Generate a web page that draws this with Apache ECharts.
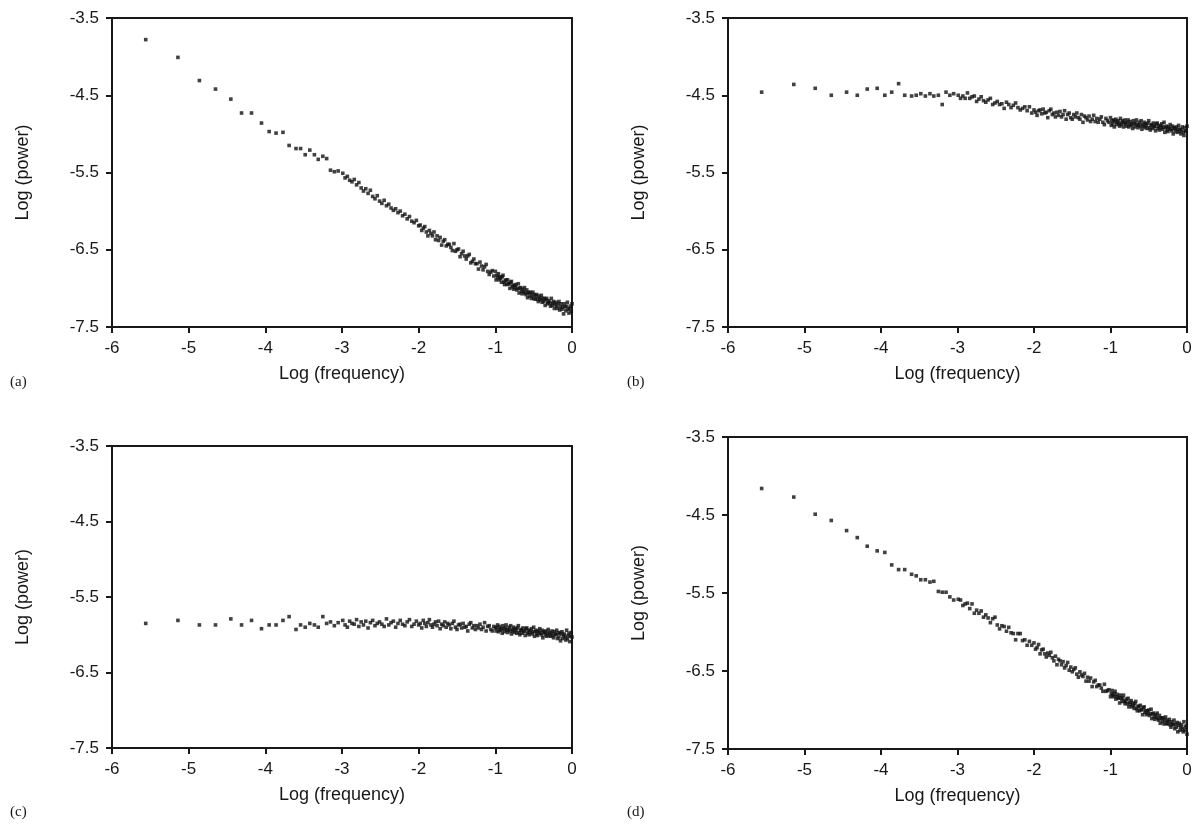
<!DOCTYPE html>
<html><head><meta charset="utf-8">
<script src="https://cdn.jsdelivr.net/npm/echarts@6/dist/echarts.min.js"></script>
<style>html,body{margin:0;padding:0;background:#fff}#c{width:1196px;height:829px}</style>
</head><body><div id="c"></div><script>
// Shared log-frequency grid (x values)
const logFreq = [
-5.56,-5.14,-4.86,-4.65,-4.45,-4.31,-4.18,-4.05,-3.95,-3.86,-3.77,-3.69,-3.60,-3.54,-3.48,-3.42,-3.36,-3.31,-3.25,-3.20,
-3.15,-3.10,-3.05,-2.99,-2.96,-2.93,-2.90,-2.87,-2.84,-2.81,-2.78,-2.75,-2.72,-2.69,-2.66,-2.63,-2.60,-2.57,-2.54,-2.51,-2.48,-2.45,-2.42,-2.39,-2.36,-2.33,-2.30,-2.27,-2.24,-2.21,-2.18,-2.15,-2.12,-2.09,-2.06,-2.03,-2.00,
-1.98,-1.96,-1.94,-1.92,-1.90,-1.88,-1.86,-1.84,-1.82,-1.80,-1.78,-1.76,-1.74,-1.72,-1.70,-1.68,-1.66,-1.64,-1.62,-1.60,-1.58,-1.56,-1.54,-1.52,-1.50,-1.48,-1.46,-1.44,-1.42,-1.40,-1.38,-1.36,-1.34,-1.32,-1.30,-1.28,-1.26,-1.24,-1.22,-1.20,-1.18,-1.16,-1.14,-1.12,-1.10,-1.08,-1.06,-1.04,-1.02,-1.00,
-0.99,-0.98,-0.97,-0.96,-0.95,-0.94,-0.93,-0.92,-0.91,-0.90,-0.89,-0.88,-0.87,-0.86,-0.85,-0.84,-0.83,-0.82,-0.81,-0.80,
-0.79,-0.78,-0.77,-0.76,-0.75,-0.74,-0.73,-0.72,-0.71,-0.70,-0.69,-0.68,-0.67,-0.66,-0.65,-0.64,-0.63,-0.62,-0.61,-0.60,
-0.59,-0.58,-0.57,-0.56,-0.55,-0.54,-0.53,-0.52,-0.51,-0.50,-0.49,-0.48,-0.47,-0.46,-0.45,-0.44,-0.43,-0.42,-0.41,-0.40,
-0.39,-0.38,-0.37,-0.36,-0.35,-0.34,-0.33,-0.32,-0.31,-0.30,-0.29,-0.28,-0.27,-0.26,-0.25,-0.24,-0.23,-0.22,-0.21,-0.20,
-0.19,-0.18,-0.17,-0.16,-0.15,-0.14,-0.13,-0.12,-0.11,-0.10,-0.09,-0.08,-0.07,-0.06,-0.05,-0.04,-0.03,-0.02,-0.01,0.00
];

const powerA = [
-3.78,-4.01,-4.31,-4.42,-4.55,-4.73,-4.73,-4.86,-4.97,-4.99,-4.98,-5.15,-5.19,-5.19,-5.27,-5.21,-5.27,-5.33,-5.29,-5.32,
-5.47,-5.49,-5.48,-5.51,-5.57,-5.55,-5.60,-5.62,-5.59,-5.66,-5.63,-5.70,-5.74,-5.71,-5.77,-5.73,-5.81,-5.84,-5.80,-5.87,-5.90,-5.86,-5.93,-5.91,-5.96,-5.99,-5.97,-6.02,-6.00,-6.06,-6.04,-6.10,-6.07,-6.13,-6.15,-6.12,-6.19,
-6.18,-6.25,-6.22,-6.20,-6.27,-6.32,-6.25,-6.29,-6.32,-6.27,-6.37,-6.32,-6.38,-6.34,-6.44,-6.39,-6.37,-6.45,-6.43,-6.43,-6.47,-6.51,-6.42,-6.52,-6.50,-6.49,-6.59,-6.55,-6.52,-6.58,-6.62,-6.58,-6.56,-6.67,-6.65,-6.62,-6.68,-6.68,-6.75,-6.66,-6.71,-6.76,-6.72,-6.69,-6.78,-6.82,-6.79,-6.77,-6.84,-6.78,
-6.89,-6.83,-6.86,-6.81,-6.89,-6.85,-6.87,-6.92,-6.85,-6.83,
-6.92,-6.95,-6.90,-6.89,-6.95,-6.89,-6.94,-6.94,-7.00,-6.92,
-6.91,-6.98,-6.96,-7.01,-6.96,-6.99,-6.95,-7.02,-7.00,-6.94,
-7.06,-7.00,-6.99,-7.04,-7.07,-7.01,-7.04,-6.99,-7.06,-7.08,
-7.02,-7.12,-7.05,-7.06,-7.10,-7.05,-7.13,-7.09,-7.05,-7.13,
-7.08,-7.14,-7.10,-7.08,-7.14,-7.17,-7.10,-7.13,-7.15,-7.09,
-7.18,-7.13,-7.17,-7.13,-7.22,-7.15,-7.13,-7.20,-7.18,-7.16,
-7.19,-7.23,-7.13,-7.22,-7.19,-7.17,-7.26,-7.21,-7.18,-7.23,
-7.26,-7.20,-7.17,-7.28,-7.24,-7.20,-7.27,-7.24,-7.33,-7.20,
-7.24,-7.29,-7.23,-7.18,-7.27,-7.32,-7.26,-7.23,-7.30,-7.20
];

const powerB = [
-4.46,-4.36,-4.41,-4.50,-4.46,-4.50,-4.42,-4.41,-4.50,-4.46,-4.35,-4.50,-4.51,-4.50,-4.48,-4.51,-4.48,-4.51,-4.50,-4.62,
-4.46,-4.50,-4.48,-4.50,-4.54,-4.51,-4.54,-4.47,-4.54,-4.52,-4.51,-4.58,-4.55,-4.52,-4.57,-4.59,-4.56,-4.54,-4.62,-4.60,-4.58,-4.62,-4.61,-4.67,-4.59,-4.62,-4.66,-4.63,-4.60,-4.66,-4.69,-4.67,-4.65,-4.70,-4.65,-4.73,-4.69,
-4.72,-4.76,-4.70,-4.69,-4.74,-4.68,-4.73,-4.72,-4.79,-4.70,-4.68,-4.75,-4.73,-4.78,-4.72,-4.76,-4.71,-4.78,-4.75,-4.70,-4.81,-4.75,-4.73,-4.79,-4.81,-4.75,-4.78,-4.73,-4.79,-4.81,-4.75,-4.85,-4.77,-4.79,-4.82,-4.77,-4.84,-4.81,-4.76,-4.84,-4.80,-4.85,-4.81,-4.78,-4.85,-4.88,-4.80,-4.83,-4.85,-4.79,
-4.89,-4.83,-4.87,-4.82,-4.91,-4.84,-4.81,-4.88,-4.85,-4.83,
-4.87,-4.90,-4.80,-4.88,-4.85,-4.83,-4.91,-4.86,-4.82,-4.87,
-4.90,-4.85,-4.82,-4.91,-4.88,-4.84,-4.89,-4.87,-4.93,-4.83,
-4.87,-4.91,-4.86,-4.82,-4.89,-4.92,-4.88,-4.85,-4.90,-4.83,
-4.94,-4.88,-4.90,-4.85,-4.92,-4.87,-4.89,-4.93,-4.86,-4.83,
-4.92,-4.95,-4.89,-4.88,-4.93,-4.86,-4.91,-4.90,-4.96,-4.87,
-4.86,-4.93,-4.90,-4.95,-4.89,-4.92,-4.87,-4.94,-4.91,-4.85,
-4.98,-4.92,-4.90,-4.95,-4.97,-4.91,-4.93,-4.88,-4.94,-4.96,
-4.90,-5.00,-4.92,-4.93,-4.96,-4.91,-4.98,-4.94,-4.89,-4.97,
-4.94,-5.00,-4.95,-4.91,-4.98,-5.02,-4.92,-4.96,-4.97,-4.90
];

const powerC = [
-5.85,-5.81,-5.87,-5.87,-5.79,-5.87,-5.81,-5.92,-5.87,-5.87,-5.81,-5.76,-5.93,-5.87,-5.90,-5.85,-5.87,-5.90,-5.76,-5.85,
-5.83,-5.88,-5.84,-5.81,-5.87,-5.90,-5.82,-5.85,-5.86,-5.80,-5.89,-5.83,-5.87,-5.82,-5.91,-5.84,-5.81,-5.88,-5.85,-5.83,-5.86,-5.89,-5.79,-5.87,-5.84,-5.82,-5.90,-5.85,-5.81,-5.86,-5.88,-5.83,-5.80,-5.89,-5.86,-5.82,-5.87,
-5.85,-5.91,-5.81,-5.85,-5.89,-5.84,-5.80,-5.87,-5.90,-5.86,-5.83,-5.88,-5.82,-5.92,-5.86,-5.88,-5.83,-5.90,-5.85,-5.87,-5.92,-5.85,-5.82,-5.90,-5.93,-5.87,-5.86,-5.91,-5.85,-5.90,-5.89,-5.95,-5.86,-5.84,-5.91,-5.88,-5.93,-5.88,-5.91,-5.86,-5.93,-5.90,-5.84,-5.95,-5.89,-5.88,-5.93,-5.95,-5.89,-5.91,
-5.95,-5.90,-5.87,-5.96,-5.93,-5.89,-5.94,-5.92,-5.98,-5.88,
-5.92,-5.96,-5.91,-5.87,-5.94,-5.97,-5.93,-5.90,-5.95,-5.88,
-5.99,-5.93,-5.95,-5.90,-5.97,-5.92,-5.94,-5.98,-5.91,-5.88,
-5.97,-6.00,-5.94,-5.93,-5.98,-5.91,-5.96,-5.95,-6.01,-5.92,
-5.91,-5.98,-5.95,-6.00,-5.94,-5.97,-5.92,-5.99,-5.96,-5.90,
-6.02,-5.96,-5.94,-5.99,-6.01,-5.95,-5.97,-5.92,-5.98,-6.00,
-5.94,-6.04,-5.96,-5.97,-6.00,-5.95,-6.02,-5.98,-5.93,-6.01,
-5.97,-6.02,-5.98,-5.95,-6.01,-6.04,-5.96,-5.99,-6.00,-5.94,
-6.05,-5.98,-6.03,-5.97,-6.08,-5.99,-5.96,-6.05,-6.01,-5.99,
-6.03,-6.07,-5.94,-6.05,-6.01,-5.98,-6.09,-6.02,-5.97,-6.03
];

const powerD = [
-4.16,-4.27,-4.49,-4.57,-4.70,-4.79,-4.90,-4.96,-4.98,-5.14,-5.20,-5.20,-5.26,-5.28,-5.33,-5.33,-5.36,-5.35,-5.48,-5.49,
-5.49,-5.55,-5.59,-5.58,-5.59,-5.66,-5.64,-5.63,-5.70,-5.64,-5.76,-5.72,-5.76,-5.73,-5.81,-5.78,-5.82,-5.88,-5.83,-5.81,-5.91,-5.96,-5.92,-5.93,-5.99,-5.94,-6.01,-6.02,-6.10,-6.02,-6.02,-6.11,-6.10,-6.17,-6.12,-6.17,-6.14,
-6.22,-6.20,-6.16,-6.28,-6.23,-6.22,-6.28,-6.32,-6.27,-6.30,-6.26,-6.33,-6.37,-6.31,-6.42,-6.35,-6.37,-6.42,-6.38,-6.46,-6.43,-6.39,-6.49,-6.45,-6.51,-6.48,-6.46,-6.54,-6.58,-6.51,-6.55,-6.57,-6.53,-6.63,-6.58,-6.63,-6.59,-6.70,-6.64,-6.62,-6.70,-6.68,-6.68,-6.72,-6.76,-6.67,-6.76,-6.75,-6.74,-6.83,
-6.79,-6.75,-6.81,-6.83,-6.79,-6.76,-6.86,-6.83,-6.80,-6.85,
-6.84,-6.91,-6.81,-6.85,-6.89,-6.85,-6.81,-6.89,-6.92,-6.89,
-6.86,-6.92,-6.85,-6.96,-6.90,-6.93,-6.88,-6.96,-6.91,-6.94,
-6.98,-6.92,-6.89,-6.98,-7.01,-6.96,-6.95,-7.01,-6.94,-7.00,
-6.99,-7.06,-6.97,-6.96,-7.03,-7.01,-7.06,-7.01,-7.04,-7.00,
-7.07,-7.05,-6.99,-7.11,-7.05,-7.04,-7.09,-7.12,-7.06,-7.09,
-7.04,-7.11,-7.13,-7.07,-7.17,-7.10,-7.11,-7.15,-7.10,-7.18,
-7.13,-7.09,-7.17,-7.13,-7.18,-7.15,-7.12,-7.19,-7.22,-7.15,
-7.18,-7.19,-7.13,-7.24,-7.18,-7.22,-7.16,-7.28,-7.20,-7.17,
-7.26,-7.22,-7.19,-7.24,-7.28,-7.15,-7.26,-7.22,-7.20,-7.31
];

const panelLabels = ['(a)', '(b)', '(c)', '(d)'];
const xTitle = 'Log (frequency)';
const yTitle = 'Log (power)';
const panels = [powerA, powerB, powerC, powerD];

const INK = '#1a1718';
const FONT = '"Liberation Sans", Arial, sans-serif';
const grids = [
  {left: 112, top: 18, width: 460, height: 309},
  {left: 728, top: 18, width: 459, height: 309},
  {left: 112, top: 446, width: 460, height: 302},
  {left: 728, top: 437, width: 459, height: 312}
];
const labelPos = [[10, 375], [627, 375], [10, 805], [627, 805]];

const axisCommon = {
  type: 'value',
  axisLine: {show: true, onZero: false, lineStyle: {color: INK, width: 2}},
  axisTick: {show: true, inside: false, length: 6, lineStyle: {color: INK, width: 2}},
  splitLine: {show: false},
  axisLabel: {color: INK, fontSize: 17, fontFamily: FONT},
  nameLocation: 'middle',
  nameTextStyle: {color: INK, fontSize: 18, fontFamily: FONT}
};

const option = {
  animation: false,
  backgroundColor: '#ffffff',
  grid: grids.map(g => Object.assign({show: true, borderColor: INK, borderWidth: 2, backgroundColor: 'transparent'}, g)),
  xAxis: grids.map((g, i) => Object.assign({}, axisCommon, {
    gridIndex: i, min: -6, max: 0, interval: 1, name: xTitle, nameGap: 38,
    axisLabel: Object.assign({}, axisCommon.axisLabel, {margin: 13})
  })),
  yAxis: grids.map((g, i) => Object.assign({}, axisCommon, {
    gridIndex: i, min: -7.5, max: -3.5, interval: 1, name: yTitle, nameGap: 80,
    axisLabel: Object.assign({}, axisCommon.axisLabel, {margin: 13, formatter: v => v.toFixed(1)})
  })),
  graphic: panelLabels.map((t, i) => ({
    type: 'text', left: labelPos[i][0], top: labelPos[i][1],
    style: {text: t, fill: INK, font: '15px "Liberation Serif", "Times New Roman", serif'}
  })),
  series: panels.map((p, i) => ({
    type: 'scatter', xAxisIndex: i, yAxisIndex: i, symbol: 'rect', symbolSize: 3.6,
    itemStyle: {color: '#111'}, silent: true,
    data: logFreq.map((x, k) => [x, p[k]])
  }))
};

const chart = echarts.init(document.getElementById('c'), null, {renderer: 'canvas'});
chart.setOption(option);
</script></body></html>
